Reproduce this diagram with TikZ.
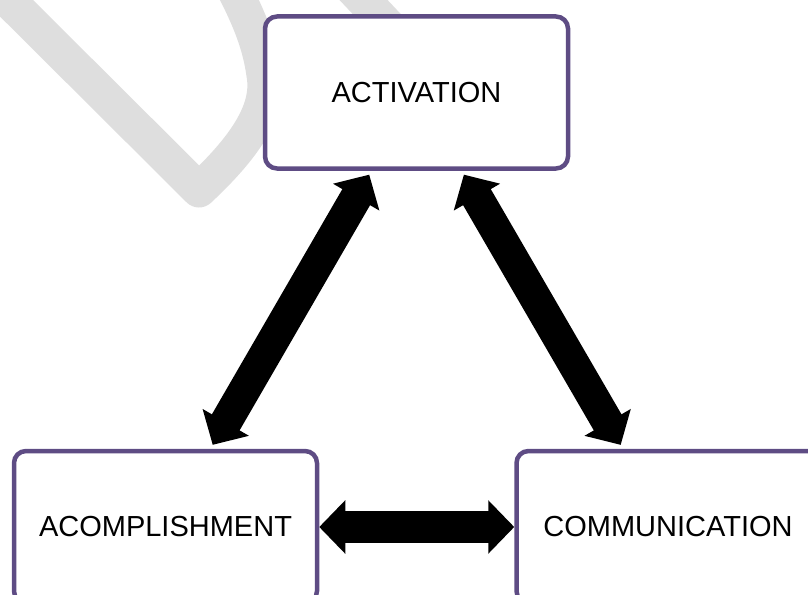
\documentclass[tikz,border=0pt]{standalone}
\usepackage{fontspec}
\setmainfont{Liberation Sans}
\usepackage{tikz}
\usetikzlibrary{arrows.meta}
\definecolor{stageline}{RGB}{94,76,132}
\definecolor{markgray}{RGB}{222,222,222}

\begin{document}
\begin{tikzpicture}[x=1pt,y=-1pt,
	stagebox/.style={draw=stageline, line width=4.5pt, fill=white, rounded corners=12pt,
		minimum width=303pt, minimum height=152pt, font=\fontsize{29}{34}\selectfont},
	dblarrow/.style={line width=32pt, {Triangle[width=52pt,length=26pt]}-{Triangle[width=52pt,length=26pt]}},
	watermark/.style={draw=markgray, line width=35pt, line join=round}]
    \useasboundingbox (0,0) rectangle (808,594);
    \clip (0,0) rectangle (808,594);
    \draw[watermark] (-40,-48) -- (199,190) .. controls (245,147) and (270,110) .. (264,75)
        .. controls (260,45) and (250,20) .. (232,-15);
    \draw[watermark] (340,-25) -- (420,60);
    \node[stagebox] (act) at (416.5,92.5) {ACTIVATION};
    \node[stagebox] (acc) at (165.5,527) {ACOMPLISHMENT};
    \node[stagebox] (com) at (668,527) {COMMUNICATION};
    \draw[dblarrow, shorten <=4.5pt, shorten >=4.5pt] (act) -- (acc);
    \draw[dblarrow, shorten <=4.5pt, shorten >=4.5pt] (act) -- (com);
    \draw[dblarrow] (acc) -- (com);
\end{tikzpicture}
\end{document}
